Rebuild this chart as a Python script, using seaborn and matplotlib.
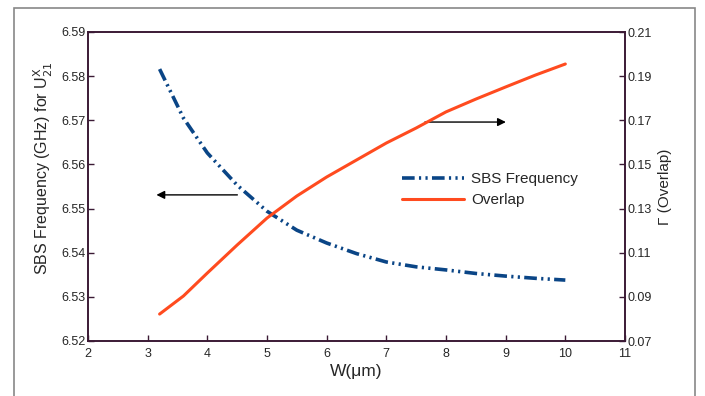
import matplotlib
matplotlib.use("Agg")
import matplotlib.pyplot as plt
import seaborn as sns
import pandas as pd
from matplotlib.patches import Rectangle
from matplotlib.lines import Line2D

W_sbs = [3.2, 3.6, 4.0, 4.5, 5.0, 5.5, 6.0, 6.5, 7.0, 7.5, 8.0, 8.5, 9.0, 9.5, 10.0]
sbs_freq = [6.5816, 6.5705, 6.5626, 6.5553, 6.5494, 6.5451, 6.5422, 6.5398, 6.5379, 6.5368, 6.5361, 6.5353, 6.5347, 6.5342, 6.5338]
W_ov = [3.2, 3.6, 4.0, 4.5, 5.0, 5.5, 6.0, 6.5, 7.0, 7.5, 8.0, 8.5, 9.0, 9.5, 10.0]
overlap = [0.0822, 0.0904, 0.1008, 0.1135, 0.1257, 0.1357, 0.1443, 0.1520, 0.1597, 0.1665, 0.1738, 0.1796, 0.1851, 0.1905, 0.1955]

x_ticks = [2, 3, 4, 5, 6, 7, 8, 9, 10, 11]
y1_ticks = [6.52, 6.53, 6.54, 6.55, 6.56, 6.57, 6.58, 6.59]
y2_ticks = [0.07, 0.09, 0.11, 0.13, 0.15, 0.17, 0.19, 0.21]

sns.set_style("white")
plt.rcParams['font.family'] = ['Liberation Sans', 'DejaVu Sans']

blue = "#0a4586"
orange = "#ff4b1f"
spine = "#3b1a35"
dash = [3.5, 1.2, 0.6, 1.2, 0.6, 1.2]

fig = plt.figure(figsize=(7.05, 3.96), dpi=100)
ax = fig.add_axes([88/705, 55/396, 537/705, 309/396])
ax2 = ax.twinx()

df1 = pd.DataFrame({"W": W_sbs, "f": sbs_freq})
df2 = pd.DataFrame({"W": W_ov, "o": overlap})

sns.lineplot(data=df1, x="W", y="f", ax=ax, color=blue, lw=2.6, legend=False)
ax.lines[0].set_dashes(dash)
sns.lineplot(data=df2, x="W", y="o", ax=ax2, color=orange, lw=2.2, legend=False)

ax.set_xlim(2, 11)
ax.set_ylim(6.52, 6.59)
ax2.set_ylim(0.07, 0.21)
ax.set_xticks(x_ticks)
ax.set_xticklabels([str(t) for t in x_ticks])
ax.set_yticks(y1_ticks)
ax.set_yticklabels([f"{t:.2f}" for t in y1_ticks])
ax2.set_yticks(y2_ticks)
ax2.set_yticklabels([f"{t:.2f}" for t in y2_ticks])

for a in (ax, ax2):
    for s in a.spines.values():
        s.set_color(spine)
        s.set_linewidth(1.2)
ax.tick_params(axis='y', direction='in', length=4, width=1, color=spine, labelsize=9, pad=2, left=True)
ax.tick_params(axis='x', direction='in', length=4, width=1, color=spine, labelsize=9, pad=5, bottom=True)
ax2.tick_params(axis='y', direction='in', length=4, width=1, color=spine, labelsize=9, right=True, pad=2)

ax.set_xlabel("W(μm)", fontsize=12.5, labelpad=3)
ax.set_ylabel(r"SBS Frequency (GHz) for U$_{21}^{\mathrm{X}}$", fontsize=11.5, labelpad=4)
ax.yaxis.set_label_coords(-0.062, 0.56)
ax2.set_ylabel("Γ (Overlap)", fontsize=11, labelpad=4)

ax.annotate("", xy=(3.1, 6.5531), xytext=(4.55, 6.5531),
            arrowprops=dict(arrowstyle="-|>", color="black", lw=1, mutation_scale=12))
ax.annotate("", xy=(9.05, 6.5696), xytext=(7.6, 6.5696),
            arrowprops=dict(arrowstyle="-|>", color="black", lw=1, mutation_scale=12))

h1 = Line2D([], [], color=blue, lw=2.6, dashes=dash)
h2 = Line2D([], [], color=orange, lw=2.2)
ax2.legend([h1, h2], ["SBS Frequency", "Overlap"], loc="upper left",
           bbox_to_anchor=(0.56, 0.59), frameon=False, fontsize=11,
           handlelength=4.0, handletextpad=0.5, labelspacing=0.45)

fig.patches.append(Rectangle((14/705, -0.1), (695-14)/705, (396-8)/396 + 0.1,
                             transform=fig.transFigure, fill=False,
                             edgecolor="#888888", lw=1.2, clip_on=False))

fig.savefig("out.png", dpi=100)
